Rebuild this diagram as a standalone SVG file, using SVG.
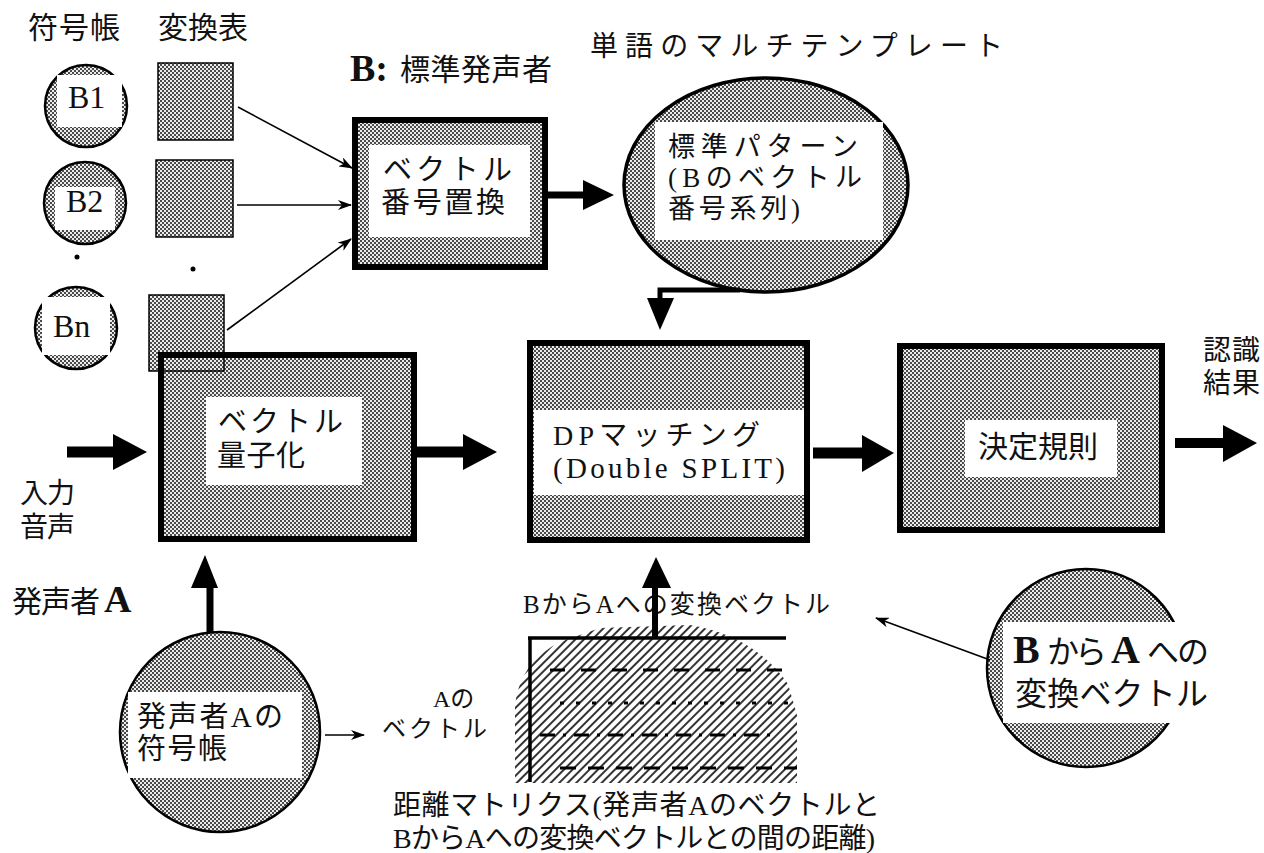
<svg xmlns="http://www.w3.org/2000/svg" width="1264" height="853" viewBox="0 0 1264 853">
<style>
.jp{font-family:'Liberation Serif','Noto Sans CJK JP',serif;fill:#111}
.b{font-weight:bold}
.box{fill:url(#ht);stroke:#000;stroke-width:6}
.thin{fill:url(#ht);stroke:#000;stroke-width:1.5}
.rnd{fill:url(#ht);stroke:#000;stroke-width:2.5}
.wt{fill:#fff}
.ln{stroke:#000;stroke-width:1.6;fill:none}
.thk{stroke:#000;fill:none}
.hd{fill:#000}
</style>
<defs>
<pattern id="ht" width="4" height="4" patternUnits="userSpaceOnUse"><rect width="4" height="4" fill="#ececec"/><rect width="2" height="2" fill="#4a4a4a"/><rect x="2" y="2" width="2" height="2" fill="#4a4a4a"/></pattern>
<pattern id="hatch" width="6" height="6" patternUnits="userSpaceOnUse" patternTransform="rotate(45)"><line x1="1" y1="0" x2="1" y2="6" stroke="#000" stroke-width="1.6"/></pattern>
<marker id="ah" markerWidth="14" markerHeight="10" refX="13" refY="5" orient="auto" markerUnits="userSpaceOnUse"><path d="M0,0 L14,5 L0,10 L4,5 Z" fill="#000"/></marker>
</defs>
<rect width="1264" height="853" fill="#fff"/>

<g id="labels">
<text class="jp" x="28" y="38" font-size="30" textLength="92">符号帳</text>
<text class="jp" x="158" y="38" font-size="30" textLength="90">変換表</text>
<text class="jp b" x="350" y="81" font-size="38">B:</text>
<text class="jp" x="400" y="80" font-size="30" textLength="152">標準発声者</text>
<text class="jp" x="590" y="56" font-size="28" textLength="413">単語のマルチテンプレート</text>
<text class="jp" x="1203" y="360" font-size="28" textLength="57">認識</text>
<text class="jp" x="1203" y="393" font-size="28" textLength="57">結果</text>
<text class="jp" x="20" y="503" font-size="28" textLength="55">入力</text>
<text class="jp" x="20" y="537" font-size="28" textLength="55">音声</text>
<text class="jp" x="12" y="612" font-size="30" textLength="88">発声者</text>
<text class="jp b" x="104" y="612" font-size="38">A</text>
<text class="jp" x="433" y="707" font-size="24">Aの</text>
<text class="jp" x="382" y="737" font-size="24" textLength="105">ベクトル</text>
<text class="jp" x="523" y="613" font-size="25" textLength="307">BからAへの変換ベクトル</text>
<text class="jp" x="393" y="815" font-size="28" textLength="487">距離マトリクス(発声者Aのベクトルと</text>
<text class="jp" x="393" y="848" font-size="28" textLength="482">BからAへの変換ベクトルとの間の距離)</text>
<circle cx="77" cy="257" r="2.5" fill="#000"/>
<circle cx="193" cy="269" r="2.5" fill="#000"/>
</g>

<g id="cb1">
<circle class="rnd" cx="86" cy="106" r="41"/>
<rect class="wt" x="57" y="75" width="65" height="52"/>
<text class="jp" x="68" y="108" font-size="32">B1</text>
</g>
<g id="cb2">
<circle class="rnd" cx="85" cy="203" r="41"/>
<rect class="wt" x="55" y="187" width="60" height="43"/>
<text class="jp" x="66" y="212" font-size="32">B2</text>
</g>
<g id="cbn">
<circle class="rnd" cx="76" cy="328" r="41"/>
<rect class="wt" x="42" y="297" width="68" height="58"/>
<text class="jp" x="53" y="337" font-size="32">Bn</text>
</g>

<g id="tbl1"><rect class="thin" x="158" y="63" width="75" height="77"/></g>
<g id="tbl2"><rect class="thin" x="156" y="160" width="77" height="77"/></g>

<g id="replace">
<rect class="box" x="355" y="120" width="190" height="147"/>
<rect class="wt" x="369" y="145" width="161" height="92"/>
<text class="jp" x="383" y="180" font-size="29" textLength="129">ベクトル</text>
<text class="jp" x="381" y="213" font-size="29" textLength="124">番号置換</text>
</g>

<g id="pattern">
<ellipse cx="766" cy="185" rx="142" ry="107" fill="url(#ht)" stroke="#000" stroke-width="3.5"/>
<rect class="wt" x="655" y="122" width="228" height="118"/>
<text class="jp" x="668" y="156" font-size="27" textLength="190">標準パターン</text>
<text class="jp" x="668" y="187" font-size="27" textLength="194">(Bのベクトル</text>
<text class="jp" x="668" y="218" font-size="27" textLength="132">番号系列)</text>
</g>

<g id="vq">
<rect class="box" x="161" y="355" width="253" height="184"/>
<rect class="wt" x="206" y="397" width="156" height="88"/>
<text class="jp" x="218" y="432" font-size="29" textLength="125">ベクトル</text>
<text class="jp" x="217" y="466" font-size="29" textLength="88">量子化</text>
</g>

<g id="tbln">
<rect class="thin" x="149" y="295" width="75" height="76"/>
<path d="M161,371 V355 H224" stroke="#000" stroke-width="6" fill="none"/>
</g>

<g id="dp">
<rect class="box" x="530" y="343" width="277" height="197"/>
<rect class="wt" x="534" y="410" width="270" height="85"/>
<text class="jp" x="553" y="445" font-size="28" textLength="207">DPマッチング</text>
<text class="jp" x="553" y="478" font-size="29" textLength="232">(Double SPLIT)</text>
</g>

<g id="decision">
<rect class="box" x="900" y="346" width="262" height="184"/>
<rect class="wt" x="965" y="420" width="152" height="57"/>
<text class="jp" x="978" y="457" font-size="30" textLength="120">決定規則</text>
</g>

<g id="cbA">
<circle class="rnd" cx="220" cy="732" r="100"/>
<rect class="wt" x="128" y="692" width="174" height="86"/>
<text class="jp" x="137" y="727" font-size="29" textLength="146">発声者Aの</text>
<text class="jp" x="137" y="759" font-size="29" textLength="90">符号帳</text>
</g>

<g id="matrix">
<path d="M515,783 L515,705 Q520,662 560,642 L600,628 L690,625 Q755,636 788,684 L797,715 L797,783 Z" fill="url(#hatch)"/>
<path d="M530,638 V782 M528,638 H786" stroke="#000" stroke-width="3.5" fill="none"/>
<line x1="550" y1="670" x2="786" y2="670" stroke="#000" stroke-width="3" stroke-dasharray="15 16"/>
<line x1="560" y1="703" x2="795" y2="703" stroke="#000" stroke-width="3" stroke-dasharray="4 12"/>
<line x1="540" y1="735" x2="775" y2="735" stroke="#000" stroke-width="3" stroke-dasharray="15 8 3 8"/>
<line x1="560" y1="768" x2="797" y2="768" stroke="#000" stroke-width="3" stroke-dasharray="16 12"/>
</g>

<g id="transvec">
<circle class="rnd" cx="1086" cy="668" r="99"/>
<rect class="wt" x="1003" y="622" width="212" height="101"/>
<text class="jp" y="663" font-size="32"><tspan class="b" x="1013" font-size="40">B</tspan><tspan x="1047 1075">から</tspan><tspan class="b" x="1111" font-size="40">A</tspan><tspan x="1147 1177">への</tspan></text>
<text class="jp" x="1015" y="705" font-size="32" textLength="193">変換ベクトル</text>
</g>

<g id="connectors">
<line class="ln" x1="238" y1="107" x2="352" y2="168" marker-end="url(#ah)"/>
<line class="ln" x1="237" y1="205" x2="351" y2="205" marker-end="url(#ah)"/>
<line class="ln" x1="227" y1="330" x2="351" y2="239" marker-end="url(#ah)"/>
<line class="thk" x1="548" y1="195" x2="586" y2="195" stroke-width="7"/>
<polygon class="hd" points="583,180 614,195 583,210"/>
<path class="thk" d="M740,290 H660 V300" stroke-width="5"/>
<polygon class="hd" points="647,298 674,298 660,330"/>
<line class="thk" x1="67" y1="452" x2="116" y2="452" stroke-width="11"/>
<polygon class="hd" points="113,434 147,452 113,470"/>
<line class="thk" x1="417" y1="452" x2="466" y2="452" stroke-width="11"/>
<polygon class="hd" points="463,434 497,452 463,470"/>
<line class="thk" x1="813" y1="453" x2="865" y2="453" stroke-width="11"/>
<polygon class="hd" points="862,435 894,453 862,472"/>
<line class="thk" x1="1175" y1="443" x2="1226" y2="443" stroke-width="10"/>
<polygon class="hd" points="1223,425 1257,443 1223,462"/>
<line class="thk" x1="210" y1="632" x2="210" y2="584" stroke-width="7"/>
<polygon class="hd" points="191,588 218,588 205,555"/>
<line class="thk" x1="655" y1="638" x2="655" y2="585" stroke-width="6"/>
<polygon class="hd" points="642,588 671,588 656,557"/>
<line class="ln" x1="325" y1="735" x2="364" y2="735" stroke-width="2" marker-end="url(#ah)"/>
<line class="ln" x1="990" y1="660" x2="876" y2="618" marker-end="url(#ah)"/>
</g>
</svg>
